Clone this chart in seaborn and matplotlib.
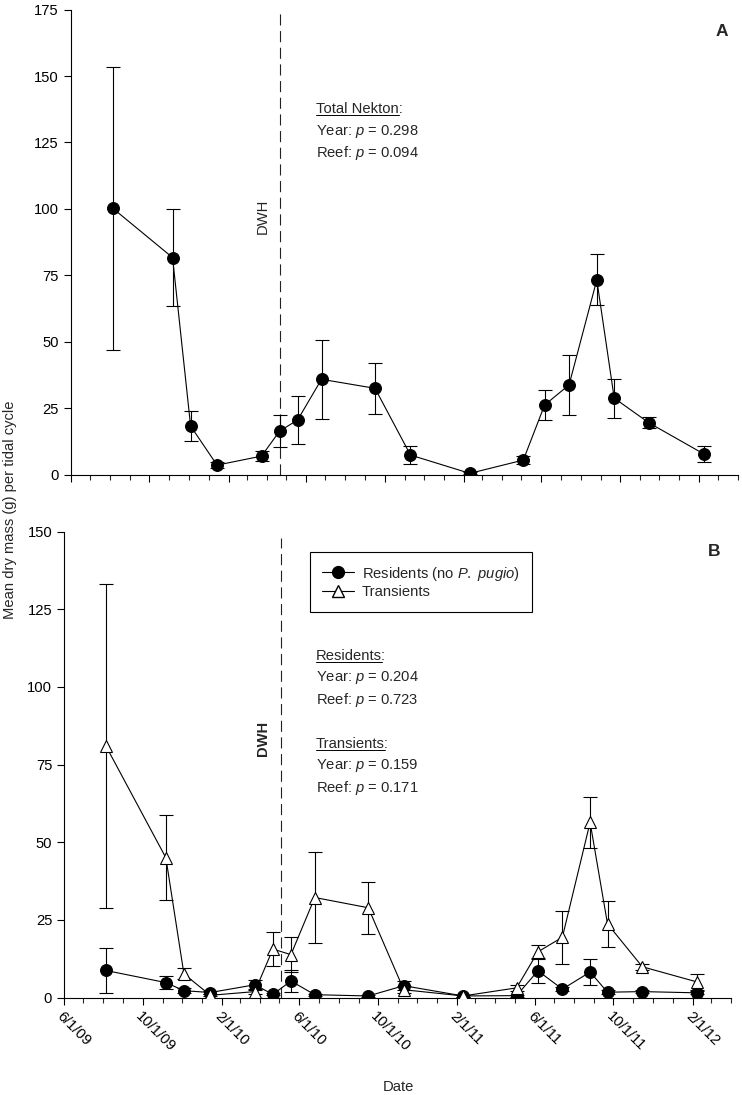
import matplotlib
matplotlib.use("Agg")
import numpy as np
import pandas as pd
import matplotlib.pyplot as plt
import matplotlib.dates as mdates
from matplotlib.lines import Line2D
import seaborn as sns

# sampling dates (same for both panels)
sample_dates = ["2009-08-05", "2009-11-06", "2009-12-04", "2010-01-14", "2010-03-24",
                "2010-04-21", "2010-05-19", "2010-06-25", "2010-09-16", "2010-11-10",
                "2011-02-10", "2011-05-04", "2011-06-06", "2011-07-14", "2011-08-26",
                "2011-09-22", "2011-11-15", "2012-02-08"]

# panel A - total nekton
total_mean = [100.3, 81.7, 18.3, 3.6, 7.0, 16.4, 20.6, 35.9, 32.5, 7.4,
              0.5, 5.5, 26.2, 33.8, 73.3, 28.8, 19.5, 7.8]
total_se = [53.2, 18.2, 5.8, 1.0, 2.0, 6.0, 9.1, 14.8, 9.6, 3.3,
            0.4, 1.6, 5.7, 11.3, 9.6, 7.3, 2.1, 3.0]

# panel B - residents / transients
res_mean = [8.7, 4.8, 2.2, 1.6, 4.1, 1.0, 5.3, 0.9, 0.5, 3.8,
            0.5, 0.6, 8.6, 2.7, 8.2, 1.7, 1.9, 1.5]
res_se = [7.1, 2.1, 0.8, 0.5, 1.6, 0.3, 3.4, 0.3, 0.2, 1.5,
          0.2, 0.3, 4.0, 0.7, 4.2, 0.6, 0.6, 0.5]
tra_mean = [81.0, 45.0, 7.6, 0.7, 1.9, 15.6, 13.8, 32.2, 28.9, 2.5,
            0.5, 3.1, 14.7, 19.4, 56.4, 23.7, 9.9, 5.0]
tra_se = [52.2, 13.7, 1.8, 0.3, 0.8, 5.5, 5.6, 14.7, 8.3, 1.2,
          0.2, 1.0, 2.2, 8.5, 8.3, 7.5, 1.0, 2.5]

dwh_a = "2010-04-21"
dwh_b = "2010-05-04"
x_start, x_end = "2009-06-01", "2012-04-01"

sns.set_theme(style="ticks")
plt.rcParams["font.family"] = ["Liberation Sans", "DejaVu Sans"]
plt.rcParams["mathtext.fontset"] = "custom"
plt.rcParams["mathtext.it"] = "Liberation Sans:italic"
plt.rcParams["mathtext.rm"] = "Liberation Sans"
FS = 10.6

df = pd.DataFrame({"date": pd.to_datetime(sample_dates),
                   "total": total_mean, "total_se": total_se,
                   "res": res_mean, "res_se": res_se,
                   "tra": tra_mean, "tra_se": tra_se})

W, H = 742, 1095
fig = plt.figure(figsize=(W / 100, H / 100), dpi=100)
ax_a = fig.add_axes([70.7 / W, 1 - 474.7 / H, 667.3 / W, 465.1 / H])
ax_b = fig.add_axes([64.0 / W, 1 - 997.5 / H, 667.3 / W, 465.8 / H])


def draw_series(ax, col, marker, face, z):
    ax.errorbar(df["date"], df[col], yerr=df[col + "_se"], fmt="none", ecolor="black",
                elinewidth=0.8, capsize=5, capthick=0.8, zorder=z)
    sns.lineplot(data=df, x="date", y=col, ax=ax, color="black", linewidth=0.8,
                 marker=marker, markersize=8.5, markerfacecolor=face,
                 markeredgecolor="black", markeredgewidth=0.8, zorder=z + 0.5)


draw_series(ax_a, "total", "o", "black", 3)
draw_series(ax_b, "res", "o", "black", 3)
draw_series(ax_b, "tra", "^", "white", 5)

ax_a.axvline(pd.Timestamp(dwh_a), ymin=0, ymax=0.993, color="#222222", lw=0.8, dashes=(10, 5), zorder=1)
ax_b.axvline(pd.Timestamp(dwh_b), ymin=0, ymax=0.986, color="#222222", lw=0.8, dashes=(10, 5), zorder=1)


def fmt_date(x, pos=None):
    d = mdates.num2date(x)
    return f"{d.month}/{d.day}/{d.strftime('%y')}"


for ax in (ax_a, ax_b):
    ax.set_xlim(pd.Timestamp(x_start), pd.Timestamp(x_end))
    ax.xaxis.set_major_locator(mdates.MonthLocator(bymonth=[2, 6, 10]))
    ax.xaxis.set_minor_locator(mdates.MonthLocator())
    ax.xaxis.set_major_formatter(plt.FuncFormatter(fmt_date))
    sns.despine(ax=ax)
    for s in ("left", "bottom"):
        ax.spines[s].set_linewidth(0.8)
        ax.spines[s].set_color("black")
    ax.tick_params(which="major", direction="out", length=5, width=0.8, labelsize=FS, colors="black")
    ax.tick_params(which="minor", direction="out", length=3.3, width=0.8)
    ax.set_xlabel("")
    ax.set_ylabel("")

ax_a.set_ylim(0, 175)
ax_a.set_yticks(np.arange(0, 176, 25))
ax_a.tick_params(axis="x", labelbottom=False)
ax_b.set_ylim(0, 150)
ax_b.set_yticks(np.arange(0, 151, 25))
plt.setp(ax_b.get_xticklabels(), rotation=-45, ha="left", va="top", rotation_mode="anchor")

# legend in panel B
handles = [Line2D([], [], color="black", lw=0.8, marker="o", markersize=8.5,
                  markerfacecolor="black", markeredgecolor="black"),
           Line2D([], [], color="black", lw=0.8, marker="^", markersize=8.5,
                  markerfacecolor="white", markeredgecolor="black")]
labels = ["Residents (no $\\mathit{P.}$ $\\mathit{pugio}$)", "Transients"]
leg = ax_b.legend(handles, labels, loc="upper left", bbox_to_anchor=(309.5 / W, 1 - 552 / H),
                  bbox_transform=fig.transFigure, frameon=True, fancybox=False,
                  edgecolor="black", framealpha=1, fontsize=FS, borderaxespad=0,
                  handlelength=2.2, borderpad=0.85, labelspacing=0.2, handletextpad=0.5)
leg.get_frame().set_linewidth(0.8)


def ftext(x, y, s, **kw):
    kw.setdefault("fontsize", FS)
    kw.setdefault("va", "center")
    return fig.text(x / W, 1 - y / H, s, **kw)


renderer = fig.canvas.get_renderer()


def underlined(x, y, word):
    ftext(x, y, word + ":")
    tmp = ftext(x, y, word)
    bb = tmp.get_window_extent(renderer)
    tmp.remove()
    yl = (bb.y0 + 1.0) / H
    fig.add_artist(Line2D([bb.x0 / W, bb.x1 / W], [yl, yl], color="black", lw=0.7,
                          transform=fig.transFigure))


# panel A annotations
ftext(722, 32, "A", fontweight="bold", fontsize=12.5, ha="center")
ftext(263, 216, "DWH", rotation=90, ha="center")
underlined(316, 109, "Total Nekton")
ftext(316, 131, "Year: $\\mathit{p}$ = 0.298")
ftext(316, 153, "Reef: $\\mathit{p}$ = 0.094")

# panel B annotations
ftext(714, 551, "B", fontweight="bold", fontsize=12.5, ha="center")
ftext(262.5, 738, "DWH", rotation=90, ha="center", fontweight="bold")
underlined(316, 656, "Residents")
ftext(316, 678, "Year: $\\mathit{p}$ = 0.204")
ftext(316, 700, "Reef: $\\mathit{p}$ = 0.723")
underlined(316, 744, "Transients")
ftext(316, 766, "Year: $\\mathit{p}$ = 0.159")
ftext(316, 788, "Reef: $\\mathit{p}$ = 0.171")

# shared labels
ftext(10, 510, "Mean dry mass (g) per tidal cycle", rotation=90, ha="center")
ftext(398, 1087, "Date", ha="center")

fig.savefig("out.png", dpi=100)
